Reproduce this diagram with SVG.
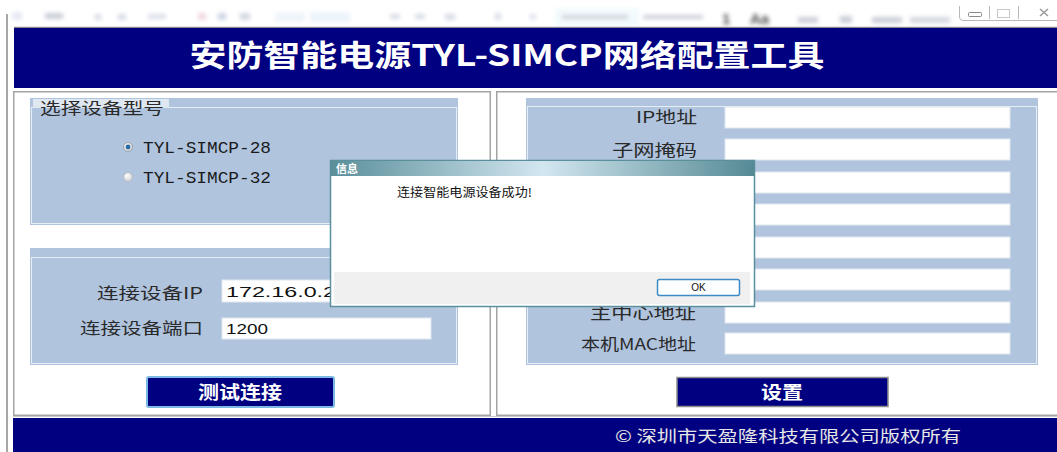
<svg xmlns="http://www.w3.org/2000/svg" width="1057" height="452" viewBox="0 0 1057 452">
<defs>
<linearGradient id="titlebar" x1="0" x2="1" y1="0" y2="0">
<stop offset="0" stop-color="#5a8f9a"/>
<stop offset="0.5" stop-color="#d2e6f0"/>
<stop offset="1" stop-color="#558a94"/>
</linearGradient>
<radialGradient id="radioOff" cx="0.4" cy="0.35" r="0.7">
<stop offset="0" stop-color="#ffffff"/>
<stop offset="1" stop-color="#cfcfcf"/>
</radialGradient>
<filter id="blur" x="-10%" y="-80%" width="120%" height="260%">
<feGaussianBlur stdDeviation="2.2"/>
</filter>
</defs>
<style>
.cn{font-family:"Noto Sans CJK SC","Noto Sans",sans-serif}
.kai{font-family:"Noto Sans CJK SC","Noto Sans",sans-serif;font-size:16px;fill:#2a2a2a}
.lbl{text-anchor:end}
.mono{font-family:"Liberation Mono","DejaVu Sans Mono",monospace;font-size:16px;fill:#1a1a1a}
.val{font-family:"Liberation Sans","Noto Sans",sans-serif;font-size:15px;fill:#111}
.navy{fill:#000080}
.grp{fill:#b0c4de}
.grpline{fill:none;stroke:#e6edf5;stroke-width:1}
.panel{fill:#ffffff;stroke:#a4a4a4;stroke-width:1.5}
.tbox{fill:#ffffff;stroke:#dfe7f0;stroke-width:1}
.btntxt{font-family:"Noto Sans CJK SC","Noto Sans",sans-serif;font-weight:700;font-size:18px;fill:#ffffff;text-anchor:middle}
</style>
<rect x="0" y="0" width="1057" height="452" fill="#ffffff"/>

<g id="toolbar" filter="url(#blur)" opacity="0.45">
<rect x="12" y="12" width="10" height="8" fill="#c8d0e8"/>
<rect x="45" y="13" width="18" height="6" fill="#8c94a8"/>
<rect x="95" y="14" width="6" height="6" fill="#a8b0c8"/>
<rect x="118" y="14" width="8" height="6" fill="#a8b0c8"/>
<rect x="148" y="14" width="18" height="5" fill="#b0b8d0"/>
<rect x="198" y="13" width="8" height="7" fill="#e0a8c0"/>
<rect x="218" y="13" width="8" height="7" fill="#90a0c0"/>
<rect x="240" y="13" width="10" height="7" fill="#a0a8c0"/>
<rect x="275" y="12" width="30" height="10" fill="#dde8f4"/>
<rect x="310" y="12" width="40" height="10" fill="#d6e6f6"/>
<rect x="390" y="14" width="10" height="5" fill="#a8b0c8"/>
<rect x="415" y="14" width="10" height="5" fill="#a8b0c8"/>
<rect x="445" y="14" width="10" height="6" fill="#a8b0c8"/>
<rect x="495" y="13" width="6" height="7" fill="#b0b8d0"/>
<rect x="530" y="14" width="6" height="6" fill="#b8c0d8"/>
<rect x="555" y="8" width="84" height="18" fill="#e2f4fa"/>
<rect x="562" y="15" width="66" height="4" fill="#8c94a8"/>
<rect x="643" y="15" width="60" height="4" fill="#8c94a8"/>
<rect x="798" y="17" width="20" height="6" fill="#8c94a8"/>
<rect x="840" y="16" width="12" height="7" fill="#8c94a8"/>
<rect x="872" y="17" width="30" height="6" fill="#8c94a8"/>
<rect x="910" y="17" width="40" height="6" fill="#a0a8b8"/>
</g>
<g id="toolbar-text" filter="url(#blur)" opacity="0.8">
<text x="722" y="24" font-family="Liberation Sans, sans-serif" font-size="15" font-weight="700" fill="#202020">1</text>
<text x="750" y="24" font-family="Liberation Sans, sans-serif" font-size="15" font-weight="700" fill="#202020">Aa</text>
</g>

<g id="window-controls" fill="none" stroke="#b8b8b8" stroke-width="1">
<path d="M959.5 6 V17 Q959.5 20.5 963 20.5 H1057"/>
<line x1="989.5" y1="6" x2="989.5" y2="19"/>
<line x1="1018.5" y1="6" x2="1018.5" y2="19"/>
<rect x="968.5" y="12.5" width="13" height="4" rx="1" stroke="#8a8a8a"/>
<rect x="997.5" y="9.5" width="12" height="8" stroke="#c8c8c8"/>
<path d="M1040 9 L1048 16 M1048 9 L1040 16" stroke="#9a9a9a" stroke-width="1.5"/>
</g>

<g id="frame">
<line x1="7" y1="14" x2="7" y2="452" stroke="#8a8a8a" stroke-width="1.5"/>
<line x1="14" y1="27.5" x2="1057" y2="27.5" stroke="#8a8a8a" stroke-width="1.5"/>
</g>

<g id="header">
<rect x="14" y="28" width="1043" height="60" class="navy"/>
<text x="507" y="66" text-anchor="middle" class="cn" font-size="30" font-weight="700" fill="#ffffff" textLength="635" lengthAdjust="spacingAndGlyphs">安防智能电源TYL-SIMCP网络配置工具</text>
</g>

<g id="left-panel">
<rect x="13.75" y="91.75" width="476.5" height="323.5" class="panel"/>
</g>
<g id="right-panel">
<rect x="496.75" y="91.75" width="570" height="323.5" class="panel"/>
</g>

<g id="model-group">
<rect x="30" y="98" width="428" height="127" class="grp"/>
<rect x="31.5" y="107.5" width="425" height="116" class="grpline"/>
<rect x="33" y="99" width="136" height="9" fill="#dfe7f1"/>
<text x="40" y="114" class="kai" textLength="124" lengthAdjust="spacingAndGlyphs">选择设备型号</text>
</g>

<g id="radio-28">
<circle cx="128" cy="147" r="4.5" fill="url(#radioOff)" stroke="#9aa4b0" stroke-width="1"/>
<circle cx="128" cy="147" r="2.4" fill="#2b6ca8"/>
<text x="143" y="153" class="mono" textLength="128" lengthAdjust="spacingAndGlyphs">TYL-SIMCP-28</text>
</g>
<g id="radio-32">
<circle cx="128" cy="177" r="4.5" fill="url(#radioOff)" stroke="#b4bcc6" stroke-width="1"/>
<text x="143" y="183" class="mono" textLength="128" lengthAdjust="spacingAndGlyphs">TYL-SIMCP-32</text>
</g>

<g id="connect-group">
<rect x="30" y="248" width="428" height="117" class="grp"/>
<rect x="31.5" y="257.5" width="425" height="106" class="grpline"/>
</g>
<g id="device-ip">
<text x="203" y="299" class="kai lbl" textLength="106" lengthAdjust="spacingAndGlyphs">连接设备IP</text>
<rect x="222" y="280" width="209" height="22" class="tbox"/>
<text x="226" y="297" class="val" textLength="110" lengthAdjust="spacingAndGlyphs">172.16.0.2</text>
</g>
<g id="device-port">
<text x="203" y="334" class="kai lbl" textLength="123" lengthAdjust="spacingAndGlyphs">连接设备端口</text>
<rect x="222" y="318" width="209" height="21" class="tbox"/>
<text x="226" y="334" class="val" textLength="42" lengthAdjust="spacingAndGlyphs">1200</text>
</g>

<g id="btn-test">
<rect x="147" y="377" width="187" height="30" rx="2" class="navy" stroke="#7cb8e4" stroke-width="2"/>
<text x="240" y="399" class="btntxt" textLength="84" lengthAdjust="spacingAndGlyphs">测试连接</text>
</g>

<g id="net-group">
<rect x="526" y="98" width="512" height="267" class="grp"/>
<rect x="527.5" y="106.5" width="509" height="257" class="grpline"/>
</g>
<g id="row-ip">
<text x="697" y="123" class="kai lbl" textLength="61" lengthAdjust="spacingAndGlyphs">IP地址</text>
<rect x="725" y="107" width="285" height="21" class="tbox"/>
</g>
<g id="row-mask">
<text x="697" y="156" class="kai lbl" textLength="85" lengthAdjust="spacingAndGlyphs">子网掩码</text>
<rect x="725" y="139" width="285" height="21" class="tbox"/>
</g>
<g id="row-3"><rect x="725" y="172" width="285" height="21" class="tbox"/></g>
<g id="row-4"><rect x="725" y="204" width="285" height="21" class="tbox"/></g>
<g id="row-5"><rect x="725" y="237" width="285" height="21" class="tbox"/></g>
<g id="row-6"><rect x="725" y="269" width="285" height="21" class="tbox"/></g>
<g id="row-center">
<text x="696" y="319" class="kai lbl" textLength="106" lengthAdjust="spacingAndGlyphs">主中心地址</text>
<rect x="725" y="302" width="285" height="21" class="tbox"/>
</g>
<g id="row-mac">
<text x="696" y="350" class="kai lbl" textLength="115" lengthAdjust="spacingAndGlyphs">本机MAC地址</text>
<rect x="725" y="333" width="285" height="21" class="tbox"/>
</g>

<g id="btn-set">
<rect x="677" y="377.5" width="211" height="29" class="navy" stroke="#8c8c8c" stroke-width="1.5"/>
<text x="782" y="399" class="btntxt" textLength="42" lengthAdjust="spacingAndGlyphs">设置</text>
</g>

<g id="footer">
<line x1="13" y1="416.5" x2="1057" y2="416.5" stroke="#c8c8c8" stroke-width="1"/>
<rect x="13" y="418" width="1044" height="34" class="navy"/>
<text x="615" y="442" class="cn" font-size="16" fill="#e6e6e6" textLength="346" lengthAdjust="spacingAndGlyphs">© 深圳市天盈隆科技有限公司版权所有</text>
</g>

<g id="dialog">
<rect x="330.5" y="160.5" width="424" height="146" fill="#ffffff" stroke="#5b8f9c" stroke-width="1.5"/>
<rect x="331" y="161" width="423" height="15" fill="url(#titlebar)"/>
<text x="336" y="173" class="cn" font-size="11" font-weight="700" fill="#ffffff">信息</text>
<text x="397" y="197" class="cn" font-size="12" fill="#111111" textLength="135" lengthAdjust="spacingAndGlyphs">连接智能电源设备成功!</text>
<rect x="334" y="272" width="416" height="32" fill="#f0f0f0"/>
<rect x="657.5" y="279.5" width="82" height="16" rx="2" fill="#fcfdfe" stroke="#3d8ac4" stroke-width="1.5"/>
<text x="698.5" y="291" text-anchor="middle" font-family="Liberation Sans, sans-serif" font-size="10" fill="#111111">OK</text>
</g>
</svg>
